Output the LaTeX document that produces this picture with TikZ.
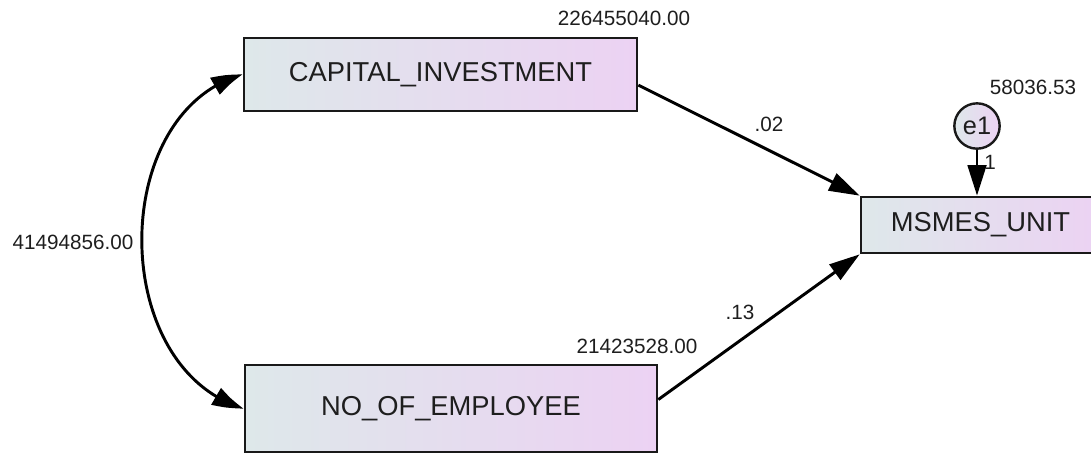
\documentclass[tikz,border=0pt]{standalone}
\usepackage{fontspec}
\setmainfont{Liberation Sans}
\usetikzlibrary{arrows.meta,calc,bending}
\definecolor{boxleft}{RGB}{222,232,234}
\definecolor{boxright}{RGB}{236,210,243}
\definecolor{txt}{RGB}{30,30,30}
\tikzset{
  obsbox/.style={draw=black!90, line width=2pt, left color=boxleft, right color=boxright, inner sep=0pt, font=\fontsize{20.5}{24}\selectfont, text=txt},
  errcirc/.style={circle, draw=black!90, line width=1.8pt, left color=boxleft, right color=boxright, inner sep=0pt, minimum size=34pt, font=\fontsize{19}{22}\selectfont, text=txt},
  lbl/.style={font=\fontsize{15.5}{18}\selectfont, text=txt, inner sep=0pt},
  path arrow/.style={line width=2.2pt, -{Triangle[length=23pt,width=14pt]}},
  cov arrow/.style={line width=2.2pt, {Triangle[length=23pt,width=14pt,bend]}-{Triangle[length=23pt,width=14pt,bend]}}
}
\begin{document}
\begin{tikzpicture}[x=0.75pt,y=-0.75pt]
\useasboundingbox (0,0) rectangle (1091,454);
\node[obsbox, minimum width=294.75pt, minimum height=54.75pt] (cap) at (440.5,74.5) {CAPITAL\_INVESTMENT};
\node[obsbox, minimum width=309pt, minimum height=65.25pt] (emp) at (451,408.5) {NO\_OF\_EMPLOYEE};
\node[obsbox, minimum width=179.25pt, minimum height=42pt] (msm) at (980.5,225) {MSMES\_UNIT};
\node[errcirc] (e1) at (977,126) {e1};
\node[lbl] (vcap) at (624,18) {226455040.00};
\node[lbl] (vemp) at (637,346) {21423528.00};
\node[lbl] (ve1) at (1033,87) {58036.53};
\node[lbl] (vcov) at (73,242) {41494856.00};
\node[lbl] (w1) at (769,124) {.02};
\node[lbl] (w2) at (740,312) {.13};
\node[lbl] (w3) at (990,162) {1};
\draw[path arrow] ($(cap.north east)!0.64!(cap.south east)$) -- (msm.north west);
\draw[path arrow] ($(emp.north east)!0.4!(emp.south east)$) -- (msm.south west);
\draw[path arrow] (e1.south) -- (e1.south |- msm.north);
\draw[cov arrow] (cap.west) .. controls (108,112) and (108,368) .. (emp.west);
\end{tikzpicture}
\end{document}
